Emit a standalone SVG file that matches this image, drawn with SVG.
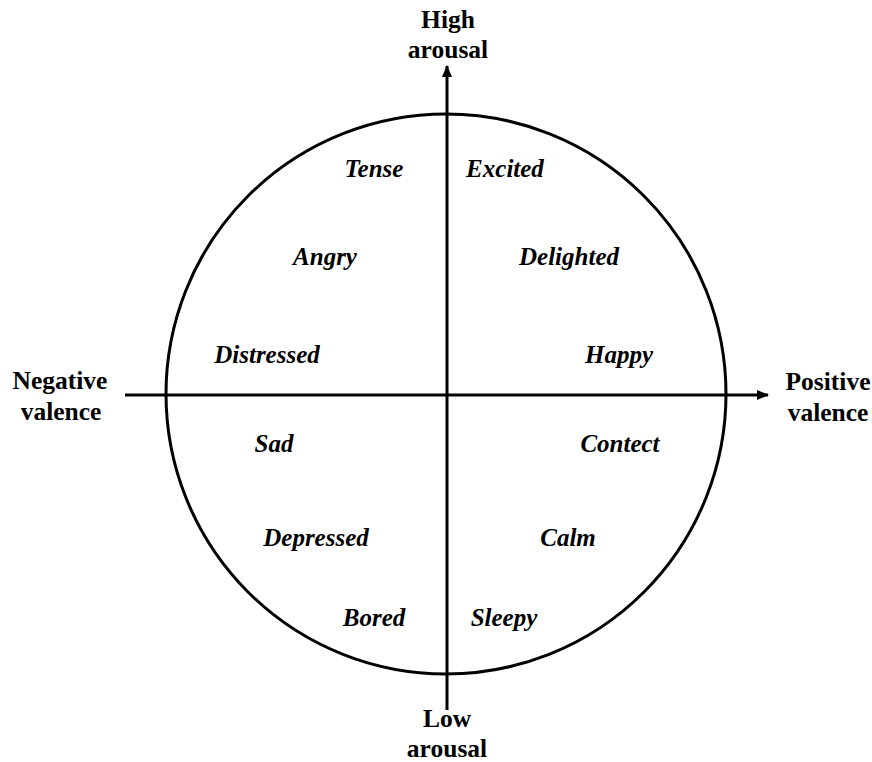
<svg xmlns="http://www.w3.org/2000/svg" width="872" height="762" viewBox="0 0 872 762">
  <style>
    .axis { stroke: #000; stroke-width: 3; fill: none; }
    .ring { stroke: #000; stroke-width: 3; fill: none; }
    .pole { font-family: "Liberation Serif", "Times New Roman", serif; font-weight: bold; font-size: 25.5px; fill: #000; text-anchor: middle; }
    .emo { font-family: "Liberation Serif", "Times New Roman", serif; font-weight: bold; font-style: italic; font-size: 25px; fill: #000; text-anchor: middle; }
  </style>
  <defs>
    <marker id="head" viewBox="0 0 12 10" refX="11" refY="5" markerWidth="12" markerHeight="10" markerUnits="userSpaceOnUse" orient="auto">
      <path d="M0,0 L12,5 L0,10 Z" fill="#000"/>
    </marker>
  </defs>
  <rect width="872" height="762" fill="#fff"/>

  <!-- emotion circle -->
  <g id="circle">
    <circle class="ring" cx="446" cy="394" r="280"/>
  </g>

  <!-- axes -->
  <g id="connectors">
    <line class="axis" x1="447" y1="710" x2="447" y2="66" marker-end="url(#head)"/>
    <line class="axis" x1="125" y1="395" x2="768" y2="395" marker-end="url(#head)"/>
  </g>

  <!-- axis poles -->
  <g id="high-arousal"><text class="pole" x="448" y="28">High</text><text class="pole" x="448" y="58">arousal</text></g>
  <g id="low-arousal"><text class="pole" x="447" y="727">Low</text><text class="pole" x="447" y="757">arousal</text></g>
  <g id="negative-valence"><text class="pole" x="60" y="389">Negative</text><text class="pole" x="61" y="420">valence</text></g>
  <g id="positive-valence"><text class="pole" x="828" y="390">Positive</text><text class="pole" x="828" y="421">valence</text></g>

  <!-- emotions -->
  <g id="tense"><text class="emo" x="374" y="177">Tense</text></g>
  <g id="excited"><text class="emo" x="505" y="177">Excited</text></g>
  <g id="angry"><text class="emo" x="325" y="265">Angry</text></g>
  <g id="delighted"><text class="emo" x="569" y="265">Delighted</text></g>
  <g id="distressed"><text class="emo" x="267" y="363">Distressed</text></g>
  <g id="happy"><text class="emo" x="619" y="363">Happy</text></g>
  <g id="sad"><text class="emo" x="274" y="452">Sad</text></g>
  <g id="contect"><text class="emo" x="620" y="452">Contect</text></g>
  <g id="depressed"><text class="emo" x="316" y="546">Depressed</text></g>
  <g id="calm"><text class="emo" x="568" y="546">Calm</text></g>
  <g id="bored"><text class="emo" x="374" y="626">Bored</text></g>
  <g id="sleepy"><text class="emo" x="504" y="626">Sleepy</text></g>
</svg>
